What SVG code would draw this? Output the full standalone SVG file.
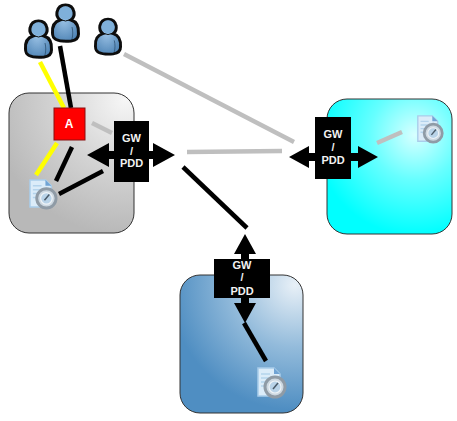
<svg xmlns="http://www.w3.org/2000/svg" width="457" height="421" viewBox="0 0 457 421">
<style>
.box{stroke:#333;stroke-width:1}
.gw{fill:#000}
.gwt{font-family:"Liberation Sans",Arial,sans-serif;font-size:11px;font-weight:bold;fill:#f2f2f2;text-anchor:middle}
.l{fill:none;stroke-width:4.500;stroke-linecap:butt}
.k{stroke:#000}.y{stroke:#ff0}.g{stroke:#bfbfbf}
</style>
<defs>
<radialGradient id="gGray" gradientUnits="userSpaceOnUse" cx="125" cy="100" r="135"><stop offset="0" stop-color="#f6f6f6"/><stop offset="0.5" stop-color="#d4d4d4"/><stop offset="1" stop-color="#b8b8b8"/></radialGradient>
<radialGradient id="gCyan" gradientUnits="userSpaceOnUse" cx="415" cy="135" r="100"><stop offset="0" stop-color="#d8ffff"/><stop offset="0.45" stop-color="#6ff"/><stop offset="1" stop-color="#0ff"/></radialGradient>
<radialGradient id="gBlue" gradientUnits="userSpaceOnUse" cx="295" cy="285" r="125"><stop offset="0" stop-color="#e8f0f7"/><stop offset="0.5" stop-color="#93bbdb"/><stop offset="1" stop-color="#4f8ec2"/></radialGradient>
<radialGradient id="gUser" cx="0.45" cy="0.4" r="0.7"><stop offset="0" stop-color="#9cc3e6"/><stop offset="1" stop-color="#4a80b2"/></radialGradient>
<filter id="soft" x="-10%" y="-10%" width="120%" height="120%"><feGaussianBlur stdDeviation="0.5"/></filter>
<symbol id="user" viewBox="0 0 29 38" overflow="visible">
<g filter="url(#soft)">
<path d="M1.500 29C1 22 4 17.500 9 16C6.500 14 5.500 11 6 8C7 3 10.500 1 14.500 1C18.500 1 22 3 23 8C23.500 11 22.500 14 20 16C25 17.500 28 22 27.500 30C27.500 35 24 36.500 20 37C14 37.500 8 37 5 35.500C2.500 34 1.500 33 1.500 29Z" fill="url(#gUser)" stroke="#0c0c0c" stroke-width="3"/>
<path d="M9.500 15.500Q14.500 18.500 19.500 15.500" fill="none" stroke="#0c0c0c" stroke-width="1"/>
<ellipse cx="14.500" cy="9" rx="6.500" ry="6.800" fill="#7fb0da"/>
<path d="M21 23C22 27 22 31 21 35" fill="none" stroke="#2c5070" stroke-width="0.800"/>
</g>
</symbol>
<symbol id="icon" viewBox="0 0 30 32" overflow="visible">
<g filter="url(#soft)">
<path d="M1 1H17L23 7V29H1Z" fill="#dbecf9" stroke="#a9cdea" stroke-width="1.500"/>
<path d="M4 7H13M4 11H12M4 15H9M4 19H8" stroke="#b4d3ec" stroke-width="1.500"/>
<path d="M17 1L23 7H17Z" fill="#6fa3d4"/>
<circle cx="18" cy="20" r="10" fill="#cdd8e1" stroke="#8f9ba6" stroke-width="3"/>
<circle cx="18" cy="20" r="6" fill="#b9d3e8" stroke="#eef3f7" stroke-width="1.200"/>
<path d="M16 22L21 16" stroke="#4a5a68" stroke-width="1.500"/>
</g>
</symbol>
</defs>
<g id="site-gray"><rect class="box" x="9" y="93" width="125" height="140" rx="20" fill="url(#gGray)"/></g>
<g id="site-cyan"><rect class="box" x="327" y="99" width="125" height="135" rx="20" fill="url(#gCyan)"/></g>
<g id="site-blue"><rect class="box" x="180" y="275" width="123" height="138" rx="20" fill="url(#gBlue)"/></g>
<g id="connectors">
<path class="l y" d="M40 62L64 108"/>
<path class="l k" d="M60 46L71 108"/>
<path class="l g" d="M124 54L294 142"/>
<path class="l g" d="M92 123L112 133"/>
<path class="l y" d="M57 143L36 175"/>
<path class="l k" d="M72 147L56 181"/>
<path class="l k" d="M59 194L103 171"/>
<path class="l g" d="M187 152L282 151"/>
<path class="l k" d="M183 167L247 228"/>
<path class="l k" d="M244 323L266 361"/>
<path class="l g" d="M377 143L402 132"/>
</g>
<g id="user-1"><use href="#user" x="24" y="20" width="29" height="38"/></g>
<g id="user-2"><use href="#user" x="51" y="4" width="29" height="38"/></g>
<g id="user-3"><use href="#user" x="94" y="18" width="28" height="37"/></g>
<g id="node-a"><rect x="54" y="108" width="31" height="32" fill="#f00" stroke="#8a1010" stroke-width="1"/><text x="69" y="128" font-family="Liberation Sans, Arial, sans-serif" font-size="12" font-weight="bold" fill="#fff" text-anchor="middle">A</text></g>
<g id="icon-gray"><use href="#icon" x="29" y="179" width="29" height="31"/></g>
<g id="icon-cyan"><use href="#icon" x="416" y="115" width="29" height="29"/></g>
<g id="icon-blue"><use href="#icon" x="257" y="367" width="30" height="32"/></g>
<g id="gw-left">
<path class="gw" d="M87 155L109 143V151H153V143L175 155L153 167V159H109V167Z"/>
<rect class="gw" x="114" y="121" width="35" height="61"/>
<text class="gwt" x="131.500" y="142">GW</text><text class="gwt" x="131.500" y="155">/</text><text class="gwt" x="131.500" y="167">PDD</text>
</g>
<g id="gw-right">
<path class="gw" d="M289 157L309 146V153H358V146L378 157L358 168V161H309V168Z"/>
<rect class="gw" x="315" y="117" width="36" height="62"/>
<text class="gwt" x="333" y="138">GW</text><text class="gwt" x="333" y="151">/</text><text class="gwt" x="333" y="164">PDD</text>
</g>
<g id="gw-bottom">
<path class="gw" d="M245 234L256 254H249V303H256L245 323L234 303H241V254H234Z"/>
<rect class="gw" x="214" y="259" width="56" height="39"/>
<text class="gwt" x="242" y="269">GW</text><text class="gwt" x="242" y="281">/</text><text class="gwt" x="242" y="295">PDD</text>
</g>
</svg>
